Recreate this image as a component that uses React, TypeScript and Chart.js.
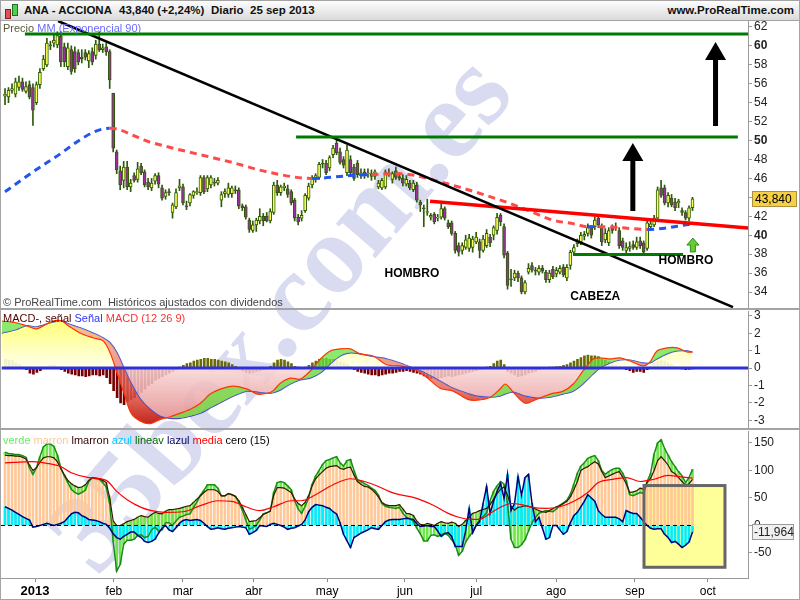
import React, { useEffect, useRef } from 'react';
import { Chart, registerables } from 'chart.js';
Chart.register(...registerables);

const FONT = '"Liberation Sans", Arial, Helvetica, sans-serif';
Chart.defaults.font.family = FONT;

// ---------- price (daily candles, index 0 = first session shown) ----------
const opens = [54.7,54.6,55.3,54.9,55.6,56.2,55.2,55.9,55.6,54.0, 55.9,57.6,58.0,60.1,60.3,60.1,61.0,59.9,57.8,59.6, 59.4,59.3,58.8,59.3,58.4,59.4,59.0,60.2,59.6,59.9, 59.4,55.0,48.8,46.8,45.8,47.2,45.1,46.3,45.9,47.3, 46.7,45.6,45.0,45.7,46.3,45.0,44.1,44.6,42.4,43.0, 45.0,45.1,43.1,43.4,44.2,44.5,44.5,46.1,44.9,45.3, 45.6,45.5,43.7,44.4,44.3,44.4,44.8,44.8,43.1,43.0, 41.6,40.5,41.1,41.5,42.0,42.0,41.5,42.4,45.3,44.5, 45.0,44.9,44.6,43.7,41.9,41.8,42.6,43.9,45.3,45.9, 46.1,47.6,47.6,47.1,48.5,49.7,48.8,48.0,46.6,48.0, 47.2,47.6,46.3,46.7,46.5,46.5,46.2,45.1,45.0,45.1, 46.6,45.9,46.8,46.2,46.0,45.4,45.5,44.8,45.3,43.5, 42.9,42.4,41.9,42.2,41.8,41.9,42.8,41.3,41.3,40.2, 38.9,38.4,38.7,38.6,38.7,39.3,39.3,38.4,38.9,39.8, 40.0,40.5,42.1,40.9,38.1,35.4,35.5,36.0,35.5,34.0, 36.1,36.8,36.3,36.1,36.5,36.1,35.3,36.4,35.9,36.1, 36.6,35.5,36.8,38.2,39.1,39.3,39.9,40.2,40.8,40.9, 41.8,40.9,39.5,39.2,40.9,40.8,40.5,39.4,38.4,38.6, 39.0,38.7,39.4,39.2,38.6,40.9,41.1,41.8,45.0,45.0, 43.4,43.9,43.5,43.4,42.6,42.4,41.8,42.9];
const highs = [55.5,55.6,56.0,56.6,56.8,56.6,56.2,56.3,56.0,56.2, 57.6,59.0,60.8,60.5,61.2,61.5,61.5,60.3,60.3,60.0, 59.9,59.6,59.6,59.6,59.5,59.8,60.6,61.5,60.2,60.3, 59.6,55.0,49.0,47.3,47.8,47.8,45.9,46.6,47.7,47.6, 46.9,46.0,46.0,46.5,46.6,45.3,44.8,44.9,43.4,44.9, 45.9,45.4,43.6,44.4,44.7,45.0,46.3,46.3,46.3,46.3, 46.0,46.1,44.6,44.9,45.5,45.2,45.2,45.0,43.3,43.2, 41.8,41.5,41.8,42.8,42.3,42.4,42.8,45.6,45.8,45.3, 45.5,45.3,44.8,43.9,42.2,42.6,44.4,45.5,46.3,46.5, 47.7,48.0,47.9,48.4,49.5,50.3,49.2,48.3,49.5,48.4, 47.5,47.9,47.0,47.0,47.0,46.9,46.9,45.8,46.0,46.9, 47.0,46.7,47.2,46.6,46.4,46.3,45.8,45.8,45.6,43.7, 43.2,43.8,42.3,42.4,42.2,43.3,43.0,41.6,41.5,40.4, 39.2,39.2,40.0,40.1,39.9,40.3,39.6,40.0,40.6,40.1, 41.0,42.3,42.3,41.2,38.3,36.4,36.3,36.2,35.7,35.2, 37.0,37.1,36.6,36.8,36.8,36.3,36.3,36.7,36.6,36.8, 36.9,36.9,38.4,39.0,39.6,40.3,40.4,41.2,41.0,41.9, 42.2,41.2,40.7,40.8,41.1,41.3,40.8,39.7,39.2,39.3, 39.4,39.8,39.8,39.4,41.6,41.5,42.1,45.1,45.8,45.3, 44.5,44.3,43.9,43.8,42.9,42.6,43.1,44.0];
const lows = [53.8,54.0,55.0,54.6,55.3,55.2,55.0,54.4,51.6,53.8, 55.5,57.4,57.8,59.6,59.9,59.8,57.8,57.8,57.5,57.0, 57.2,58.0,58.2,58.5,57.7,58.0,58.6,59.4,59.3,59.0, 55.5,48.8,46.5,44.8,45.0,44.8,44.6,45.6,45.6,46.4, 45.1,44.8,44.7,45.4,45.0,43.7,43.8,44.2,41.8,42.8, 44.7,43.2,42.7,43.1,43.9,44.3,44.2,44.4,44.6,45.0, 45.2,45.3,43.0,44.0,44.0,44.0,44.4,42.8,42.6,41.7, 40.3,40.3,40.4,41.2,41.0,41.4,41.3,42.2,44.2,44.2, 44.7,44.0,43.2,41.5,41.1,41.5,42.4,43.7,45.0,45.6, 45.9,47.1,46.4,46.8,48.2,48.5,47.5,47.1,46.3,46.3, 45.8,46.1,46.0,46.0,46.1,45.8,45.9,44.9,44.8,44.9, 46.2,45.5,45.9,45.8,45.2,45.2,44.8,44.6,43.5,42.5, 40.9,42.1,41.6,41.2,41.5,41.7,41.6,40.7,40.0,38.1, 37.8,38.0,38.5,38.3,38.2,39.1,37.6,38.2,38.7,38.8, 39.5,40.1,41.0,37.6,34.3,34.6,35.2,35.1,33.8,33.8, 35.9,36.1,35.8,35.8,36.0,35.0,35.0,35.4,35.6,35.9, 35.6,35.2,36.4,37.9,38.8,39.0,39.5,39.9,39.7,40.6, 40.8,38.9,39.2,38.9,40.2,40.5,38.6,38.4,38.1,38.3, 38.5,38.5,38.6,37.9,38.4,40.6,40.9,41.6,44.0,43.2, 43.0,43.0,42.6,42.9,42.1,41.6,41.5,42.6];
const closes = [54.9,55.3,55.5,56.2,56.2,55.4,55.7,54.6,53.2,55.9, 57.2,58.6,60.3,60.0,60.6,61.1,58.3,58.3,59.8,57.3, 57.6,58.3,58.6,58.8,59.2,58.3,60.2,59.6,59.8,59.4, 56.4,49.2,46.9,45.3,47.2,45.1,45.5,45.8,47.0,46.6, 45.3,45.1,45.5,46.3,45.4,43.9,44.5,44.5,43.2,44.5, 45.2,43.4,43.0,44.3,44.6,44.6,46.1,44.6,46.1,46.1, 45.5,45.8,44.3,44.6,45.0,45.0,44.7,43.1,42.9,41.9, 40.6,41.1,41.6,42.0,41.5,41.5,42.5,45.3,44.5,45.1, 45.2,44.3,43.4,41.8,41.4,42.1,44.2,45.2,46.0,46.3, 47.5,47.5,46.6,48.2,49.2,48.7,47.7,47.4,49.0,46.6, 46.0,46.4,46.6,46.3,46.6,46.2,46.7,45.5,45.8,46.7, 46.5,46.5,46.1,46.0,45.5,45.9,45.0,45.5,43.7,43.2, 42.8,42.5,42.1,41.4,41.9,42.8,41.8,40.9,40.2,38.4, 38.2,38.9,39.5,39.7,39.6,39.8,38.4,39.6,40.2,39.2, 40.8,41.9,41.4,37.9,34.7,35.3,36.0,35.5,34.0,35.0, 36.5,36.3,36.2,36.5,36.2,35.3,36.0,35.6,36.3,36.5, 35.8,36.6,38.2,38.7,39.3,40.0,40.1,40.8,40.0,41.6, 41.1,39.3,40.2,40.5,40.5,40.9,38.9,38.7,38.7,38.8, 38.7,39.3,38.9,38.2,41.3,41.2,41.8,44.8,44.2,43.4, 44.2,43.2,42.9,43.6,42.4,41.8,42.9,43.84];

// exponential MA 90 (read at a few points) and whether price is above it on each stretch
const maIdx = [0,13,30,41,56,65,75,88,99,105,113,125,142,148,157,163,167,170,176,184,197];
const maVal = [44.6,47.9,51.3,49.9,48.5,47.7,46.7,46.0,46.3,46.4,46.5,45.6,43.7,42.9,41.6,41.2,40.9,40.9,40.8,40.6,41.2];
const maAbove = [1,1,0,0,0,0,0,1,1,0,0,0,0,0,0,0,1,0,0,1,1];

// drawn lines on the price panel (index, price)
const lineTopGreen = [{ x: 5.7, y: 61.26 }, { x: 213, y: 61.26 }];
const lineMidGreen = [{ x: 83.4, y: 50.37 }, { x: 210, y: 50.37 }];
const lineDownTrend = [{ x: 15.2, y: 62.63 }, { x: 208.6, y: 32.4 }];
const lineNeckRed = [{ x: 121.8, y: 43.6 }, { x: 212.9, y: 40.75 }];
const lineLowGreen = [{ x: 162.8, y: 37.95 }, { x: 194.3, y: 37.95 }];
const arrowX = [179.9, 203.6];
const arrowBase = [42.56, 51.54];
const arrowTip = [49.74, 60.42];
const smallArrow = { x: 197.1, base: 38.23, tip: 39.7 };
const noteText = ['HOMBRO', 'CABEZA', 'HOMBRO'];
const noteX = [116.6, 169.1, 195.1];
const noteY = [35.9, 33.47, 37.27];
const priceTicks = [34,36,38,40,42,44,46,48,50,52,54,56,58,60,62];

// ---------- MACD (12 26 9) ----------
const macdIdx = [-1.1,3,6,9,13,16,18,21.5,25,28,30,32,34,36,38.7,41.5,44.4,47.3,50.1,53,55.9,58.7,61.6,65.3,69.3,72.2,75.1,76.8,78.8,81.7,84.5,87.4,90.3,93.1,96,98.9,101.7,105.4,109.5,113.2,116.9,120.3,124.6,128.4,132.4,135.2,139,141.8,143.3,145.6,149,152.4,156.2,159.9,162.8,165.6,168.5,170.5,173.4,176.2,179.1,182.8,184.8,186.8,189.7,192.6,195.4,197];
const macdVals = [2.7,2.6,2.43,2.25,2.66,2.72,2.43,2.0,1.74,1.56,0.87,-0.3,-1.45,-2.6,-3.06,-3.2,-2.95,-2.8,-2.6,-2.37,-2.02,-1.5,-1.21,-1.04,-1.21,-1.5,-1.45,-1.3,-0.87,-0.58,-0.64,-0.17,0.52,0.98,1.1,1.1,0.81,0.69,0.17,0.12,-0.06,-0.46,-1.16,-1.33,-1.79,-1.85,-1.68,-1.21,-0.92,-1.39,-2.02,-1.79,-1.5,-1.33,-0.92,-0.17,0.52,0.58,0.52,0.58,0.40,0.12,0.35,0.98,1.16,1.16,0.92,0.92];
const signalVals = [2.0,2.2,2.43,2.37,2.6,2.72,2.54,2.31,2.02,1.74,1.45,0.87,0,-0.87,-1.79,-2.37,-2.77,-2.89,-2.89,-2.77,-2.6,-2.3,-2.0,-1.62,-1.33,-1.39,-1.45,-1.42,-1.27,-0.92,-0.69,-0.58,-0.29,0.23,0.69,0.87,0.81,0.66,0.52,0.29,0.0,-0.29,-0.75,-1.16,-1.45,-1.62,-1.68,-1.62,-1.5,-1.39,-1.62,-1.73,-1.68,-1.5,-1.33,-0.92,-0.35,0.0,0.29,0.46,0.46,0.29,0.29,0.52,0.81,0.98,0.98,0.92];
const macdHist = [0.5,0.45,0.42,0.3,0.2,0.1,-0.1,-0.3,-0.35,-0.25, -0.15,0.05,0.1,0.15,0.15,0.1,-0.1,-0.2,-0.3,-0.35, -0.4,-0.45,-0.45,-0.5,-0.45,-0.4,-0.4,-0.45,-0.4,-0.55, -0.9,-1.3,-1.7,-2.0,-2.1,-1.9,-1.8,-1.7,-1.5,-1.4, -1.2,-1.0,-0.9,-0.7,-0.6,-0.5,-0.4,-0.3,-0.2,-0.1, 0.05,0.15,0.25,0.3,0.4,0.45,0.5,0.55,0.55,0.5, 0.5,0.45,0.4,0.35,0.3,0.2,0.1,-0.05,-0.15,-0.25, -0.3,-0.25,-0.2,-0.15,-0.1,-0.05,0.1,0.3,0.45,0.5, 0.45,0.35,0.25,0.1,0.05,0.02,0.05,0.15,0.3,0.4, 0.5,0.55,0.55,0.5,0.5,0.45,0.35,0.3,0.2,0.1, -0.1,-0.2,-0.25,-0.3,-0.35,-0.4,-0.4,-0.45,-0.4,-0.35, -0.3,-0.3,-0.25,-0.2,-0.2,-0.15,-0.2,-0.25,-0.3,-0.35, -0.45,-0.55,-0.6,-0.55,-0.6,-0.55,-0.5,-0.45,-0.5,-0.45, -0.4,-0.35,-0.3,-0.25,-0.2,-0.15,-0.1,-0.05,0.05,0.1, 0.25,0.4,0.45,0.2,-0.2,-0.3,-0.4,-0.5,-0.45,-0.4, -0.3,-0.25,-0.2,-0.1,-0.05,0.03,0.05,0.05,0.08,0.1, 0.15,0.2,0.3,0.4,0.5,0.6,0.7,0.75,0.7,0.7, 0.65,0.5,0.45,0.35,0.25,0.15,0.1,0.02,-0.1,-0.15, -0.25,-0.2,-0.2,-0.25,-0.1,0.1,0.3,0.4,0.45,0.4, 0.3,0.2,0.1,0.02,-0.05,-0.1,-0.08,-0.05];
const macdTicks = [-3,-2,-1,0,1,2,3];

// ---------- oscillator (15) ----------
const verde = [133,131,130,129,129,127,124,105,93,105, 125,143,148,148,144,128,105,90,78,66, 60,57,60,64,80,87,85,84,78,70, 40,-30,-83,-71,-34,-27,-27,-25,-18,-17, -22,-20,-8,-3,-10,-8,5,5,0,8, 15,17,20,21,32,43,55,64,74,74, 74,68,54,54,58,56,53,42,28,10, -7,-4,0,10,21,23,26,60,78,80, 78,72,65,45,30,22,35,50,75,90, 100,111,118,120,123,125,114,108,118,120, 100,83,80,76,73,68,64,55,40,35, 33,32,31,33,22,15,12,8,-5,-15, -28,-28,-18,-17,-20,-17,-14,-18,-26,-35, -54,-47,-30,-20,-12,0,11,16,23,45, 62,72,80,75,40,-25,-40,-40,-35,-26, -10,5,15,22,25,27,26,25,30,37, 41,46,57,75,95,108,114,122,125,127, 118,100,93,98,102,104,104,95,82,56, 54,57,60,58,80,95,130,150,156,140, 128,116,107,98,90,78,87,102];
const lmarron = [128,127,127,126,126,124,121,110,100,105, 115,123,125,125,123,116,103,92,82,76, 72,69,70,74,82,87,86,85,82,78, 50,8,0,0,3,7,9,11,15,18, 16,15,20,24,22,21,26,29,29,30, 31,33,35,36,42,48,54,60,65,65, 65,62,54,54,58,56,53,45,33,20, 7,8,9,14,20,23,26,55,69,69, 68,64,60,48,40,36,42,54,72,85, 92,98,104,107,108,109,104,102,105,106, 92,80,75,71,70,66,60,52,42,38, 36,36,36,38,30,22,21,18,8,2, 1,4,2,0,4,7,5,4,6,4, -2,2,9,15,22,24,27,29,31,38, 48,58,66,70,55,35,28,33,34,36, 35,33,30,27,25,24,27,31,34,36, 40,44,52,65,80,100,104,107,112,116, 112,98,87,90,93,96,98,88,76,60, 61,63,68,66,78,86,100,118,125,118, 110,98,94,87,80,73,76,84];
const lazul = [34,31,28,24,20,16,13,10,-3,-2, 0,2,4,2,0,2,4,7,14,21, 24,23,18,15,11,10,9,7,4,2, -5,-15,-22,-25,-20,-16,-12,-12,-18,-22, -29,-31,-29,-25,-14,-5,0,-8,-11,-4, 4,9,11,9,10,11,9,4,-2,-7, -6,-4,-6,-7,-5,-4,-3,-2,-3,-4, -16,-13,-9,0,-1,-2,2,4,2,0, -3,-7,-5,-4,-1,2,10,25,33,38, 37,36,33,31,25,21,5,-16,-28,-40, -22,-18,-14,-11,-8,-4,-6,-7,0,7, 10,11,11,11,12,13,12,11,3,-2, -1,0,-2,-2,-10,-20,-15,-13,-20,-38, -38,-38,-10,31,-13,0,7,40,71,22, 44,62,76,49,93,27,40,89,55,87, 93,40,7,15,-5,-25,-22,0,0,-8, -16,-11,5,18,24,34,44,56,50,44, 27,20,15,15,15,15,12,7,27,24, 22,22,15,7,0,-5,-7,-6,-6,-16, -22,-31,-29,-34,-40,-36,-30,-11.964];
const mediaIdx = [0,8,12,16,19,24,29,32,35,39,42,46,51,56,61,65,69,73,77,82,85,89,94,99,103,107,110,113,117,123,127,130,134,136,139,142,145,148,151,155,159,163,167,170,174,178,182,186,190,193,197];
const mediaVal = [114,116,113,107,96,87,82,62,47,33,27,24,25,36,45,44,34,27,34,45,45,56,74,85,80,71,62,56,51,36,22,15,11,11,22,33,40,38,33,31,34,44,60,78,84,87,80,84,91,89,86];
const boxX = [183.1, 206.3];
const boxY = [72.6, -76];
const oscTicks = [-50, 0, 50, 100, 150];

// ---------- time axis ----------
const monthIdx = [8.6, 31.2, 51.0, 71.3, 92.3, 114.6, 135.0, 157.9, 180.5, 201.4];
const monthLabels = ['2013', 'feb', 'mar', 'abr', 'may', 'jun', 'jul', 'ago', 'sep', 'oct'];

const X_MIN = -1.15;
const X_MAX = 212.9;

const fmt = (v: number) => v.toFixed(3).replace('.', ',');
const pts = (arr: number[]) => arr.map((v, i) => ({ x: i, y: v }));
const sparse = (xs: number[], ys: number[]) => xs.map((x, k) => ({ x, y: ys[k] }));

function yAxis(min: number, max: number, ticks: number[], font?: any) {
  return {
    position: 'right',
    min,
    max,
    afterBuildTicks: (ax: any) => { ax.ticks = ticks.map((v) => ({ value: v })); },
    afterFit: (s: any) => { s.width = 52; s.paddingTop = 0; s.paddingBottom = 0; },
    grid: { drawOnChartArea: false, drawTicks: true, tickLength: 4, color: '#9a9a9a', offset: false },
    border: { display: true, color: '#9a9a9a' },
    ticks: { autoSkip: false, padding: 2, color: '#222', callback: (v: any) => String(v), font: font || { family: FONT, size: 12 } },
  };
}

const hiddenX = { type: 'linear', min: X_MIN, max: X_MAX, display: false, offset: false, grid: { offset: false } };

const framePlugin = {
  id: 'frame',
  afterDraw(chart: any) {
    const { ctx, width, height } = chart;
    ctx.save();
    ctx.strokeStyle = '#a4a4a4';
    ctx.lineWidth = 1;
    ctx.strokeRect(0.5, 0.5, width - 1, height - 1);
    ctx.restore();
  },
};

function drawArrow(ctx: any, x: number, yb: number, yt: number, headLen: number, headW: number, shaftW: number, fill: string, stroke?: string) {
  const hw = headW / 2, sw = shaftW / 2;
  ctx.beginPath();
  ctx.moveTo(x - sw, yb);
  ctx.lineTo(x - sw, yt + headLen);
  ctx.lineTo(x - hw, yt + headLen);
  ctx.lineTo(x, yt);
  ctx.lineTo(x + hw, yt + headLen);
  ctx.lineTo(x + sw, yt + headLen);
  ctx.lineTo(x + sw, yb);
  ctx.closePath();
  ctx.fillStyle = fill;
  ctx.fill();
  if (stroke) { ctx.strokeStyle = stroke; ctx.lineWidth = 1; ctx.stroke(); }
}

const priceDeco = {
  id: 'priceDeco',
  afterDatasetsDraw(chart: any) {
    const { ctx, scales } = chart;
    const xs = scales.x, ys = scales.y;
    ctx.save();
    for (let k = 0; k < arrowX.length; k++) {
      drawArrow(ctx, xs.getPixelForValue(arrowX[k]), ys.getPixelForValue(arrowBase[k]), ys.getPixelForValue(arrowTip[k]), 18, 21, 5, '#000');
    }
    drawArrow(ctx, xs.getPixelForValue(smallArrow.x), ys.getPixelForValue(smallArrow.base), ys.getPixelForValue(smallArrow.tip), 7, 12, 5, '#66cc33', '#2e8b1e');
    ctx.font = `bold 12px ${FONT}`;
    ctx.textAlign = 'center';
    ctx.textBaseline = 'middle';
    ctx.fillStyle = '#000';
    noteText.forEach((t, k) => ctx.fillText(t, xs.getPixelForValue(noteX[k]), ys.getPixelForValue(noteY[k])));
    ctx.restore();
  },
  afterDraw(chart: any) {
    const { ctx, scales, chartArea } = chart;
    const last = closes[closes.length - 1];
    const y = Math.round(scales.y.getPixelForValue(last));
    const x = chartArea.right + 4;
    ctx.save();
    ctx.fillStyle = '#f6cf45';
    ctx.fillRect(x, y - 8, 45, 16);
    ctx.strokeStyle = '#a89040';
    ctx.strokeRect(x + 0.5, y - 7.5, 44, 15);
    ctx.fillStyle = '#000';
    ctx.font = `12px ${FONT}`;
    ctx.textAlign = 'left';
    ctx.textBaseline = 'middle';
    ctx.fillText(fmt(last), x + 3, y + 1);
    ctx.restore();
  },
};

const oscDeco = {
  id: 'oscDeco',
  beforeDatasetsDraw(chart: any) {
    const { ctx, scales } = chart;
    const x0 = scales.x.getPixelForValue(boxX[0]), x1 = scales.x.getPixelForValue(boxX[1]);
    const y0 = scales.y.getPixelForValue(boxY[0]), y1 = scales.y.getPixelForValue(boxY[1]);
    ctx.save();
    ctx.fillStyle = '#ffff99';
    ctx.fillRect(x0, y0, x1 - x0, y1 - y0);
    ctx.restore();
  },
  afterDatasetsDraw(chart: any) {
    const { ctx, scales } = chart;
    const x0 = scales.x.getPixelForValue(boxX[0]), x1 = scales.x.getPixelForValue(boxX[1]);
    const y0 = scales.y.getPixelForValue(boxY[0]), y1 = scales.y.getPixelForValue(boxY[1]);
    ctx.save();
    ctx.strokeStyle = '#666';
    ctx.lineWidth = 3;
    ctx.strokeRect(x0, y0, x1 - x0, y1 - y0);
    ctx.restore();
  },
  afterDraw(chart: any) {
    const { ctx, scales, chartArea } = chart;
    const last = lazul[lazul.length - 1];
    const y = Math.round(scales.y.getPixelForValue(last));
    const x = chartArea.right + 4;
    ctx.save();
    ctx.fillStyle = '#f0f0f0';
    ctx.fillRect(x, y - 8, 42, 16);
    ctx.strokeStyle = '#9a9a9a';
    ctx.strokeRect(x + 0.5, y - 7.5, 41, 15);
    ctx.fillStyle = '#222';
    ctx.font = `12px ${FONT}`;
    ctx.textAlign = 'left';
    ctx.textBaseline = 'middle';
    ctx.fillText(fmt(last), x + 2, y + 1);
    ctx.restore();
  },
};

export default function App() {
  const pRef = useRef<HTMLCanvasElement>(null);
  const mRef = useRef<HTMLCanvasElement>(null);
  const oRef = useRef<HTMLCanvasElement>(null);

  useEffect(() => {
    const charts: Chart[] = [];
    const lineDs = (data: any, color: string, width: number, order: number) => ({
      type: 'line', data, borderColor: color, borderWidth: width, pointRadius: 0, fill: false, order,
    });

    // ---- price ----
    const wicks = closes.map((_, i) => ({ x: i, y: [lows[i], highs[i]] }));
    const bodies = closes.map((c, i) => ({ x: i, y: [opens[i], c] }));
    const price = new Chart(pRef.current as HTMLCanvasElement, {
      type: 'bar',
      data: {
        datasets: [
          lineDs(lineTopGreen, '#007a00', 3, 0),
          lineDs(lineMidGreen, '#007a00', 3, 0),
          lineDs(lineLowGreen, '#007a00', 3, 0),
          lineDs(lineDownTrend, '#000000', 2.5, 0),
          lineDs(lineNeckRed, '#ff0000', 3.5, 0),
          {
            type: 'line', data: sparse(maIdx, maVal), borderWidth: 3, borderDash: [7, 5], pointRadius: 0,
            cubicInterpolationMode: 'monotone', fill: false, order: 1,
            segment: { borderColor: (ctx: any) => (maAbove[ctx.p0DataIndex] ? '#2255f0' : '#ff4a4a') },
          },
          {
            type: 'bar', data: bodies, grouped: false, barThickness: 3, borderWidth: 1, borderSkipped: false,
            borderColor: '#2d5a08', order: 2,
            backgroundColor: (ctx: any) => (closes[ctx.dataIndex] >= opens[ctx.dataIndex] ? '#ffff55' : '#993399'),
          },
          { type: 'bar', data: wicks, grouped: false, barThickness: 1, backgroundColor: '#2d5a08', order: 3 },
        ],
      } as any,
      options: {
        animation: false, responsive: false, devicePixelRatio: 1,
        layout: { padding: { left: 1, right: 0, top: 1, bottom: 1 } },
        plugins: { legend: { display: false }, tooltip: { enabled: false } },
        scales: {
          x: hiddenX,
          y: yAxis(32.31, 62.63, priceTicks, (ctx: any) => ({
            family: FONT, size: 12, weight: ctx.tick && ctx.tick.value % 10 === 0 ? 'bold' : 'normal',
          })),
        },
      } as any,
      plugins: [priceDeco, framePlugin],
    });
    charts.push(price);

    // ---- MACD ----
    const macd = new Chart(mRef.current as HTMLCanvasElement, {
      type: 'bar',
      data: {
        datasets: [
          { type: 'line', data: sparse(macdIdx, macdVals), borderColor: '#ff3300', borderWidth: 1.2, pointRadius: 0, tension: 0.3, fill: false, order: 1 },
          { type: 'line', data: sparse(macdIdx, signalVals), borderColor: '#3344ee', borderWidth: 1.2, pointRadius: 0, tension: 0.3, fill: false, order: 2 },
          {
            type: 'bar', data: pts(macdHist), grouped: false, barThickness: 2, order: 3,
            backgroundColor: (ctx: any) => (macdHist[ctx.dataIndex] >= 0 ? '#6b6b00' : '#780000'),
          },
          { type: 'line', data: [{ x: X_MIN, y: 0 }, { x: X_MAX, y: 0 }], borderColor: '#3030d8', borderWidth: 3, pointRadius: 0, fill: false, order: 0 },
        ],
      } as any,
      options: {
        animation: false, responsive: false, devicePixelRatio: 1,
        layout: { padding: { left: 1, right: 0, top: 2, bottom: 2 } },
        plugins: { legend: { display: false }, tooltip: { enabled: false } },
        scales: { x: hiddenX, y: yAxis(-3.39, 3.276, macdTicks) },
      } as any,
      plugins: [framePlugin],
    });
    {
      const ys = macd.scales.y;
      const c = macd.ctx;
      const yel = c.createLinearGradient(0, ys.getPixelForValue(3), 0, ys.getPixelForValue(0));
      yel.addColorStop(0, 'rgba(255,255,90,0.9)');
      yel.addColorStop(1, 'rgba(255,255,235,0.9)');
      const pink = c.createLinearGradient(0, ys.getPixelForValue(0), 0, ys.getPixelForValue(-3));
      pink.addColorStop(0, 'rgba(248,215,215,0.85)');
      pink.addColorStop(1, 'rgba(228,140,140,0.9)');
      const red = c.createLinearGradient(0, ys.getPixelForValue(2.5), 0, ys.getPixelForValue(-3.3));
      red.addColorStop(0, 'rgba(240,150,140,0.6)');
      red.addColorStop(0.6, 'rgba(230,100,85,0.8)');
      red.addColorStop(1, 'rgba(190,20,10,0.95)');
      (macd.data.datasets[1] as any).fill = { target: 'origin', above: yel, below: pink };
      (macd.data.datasets[0] as any).fill = { target: 1, above: 'rgba(100,225,60,0.75)', below: red };
      macd.update('none');
    }
    charts.push(macd);

    // ---- oscillator ----
    const osc = new Chart(oRef.current as HTMLCanvasElement, {
      type: 'bar',
      data: {
        datasets: [
          { type: 'line', data: [{ x: X_MIN, y: 0 }, { x: closes.length - 1, y: 0 }], borderColor: '#000', borderWidth: 1, borderDash: [4, 3], pointRadius: 0, fill: false, order: 0 },
          { type: 'line', data: sparse(mediaIdx, mediaVal), borderColor: '#ff0000', borderWidth: 1.2, pointRadius: 0, cubicInterpolationMode: 'monotone', fill: false, order: 1 },
          lineDs(pts(lazul), '#000078', 1.5, 2),
          lineDs(pts(lmarron), '#3a1500', 1.2, 3),
          lineDs(pts(verde), '#1a8a1a', 1.5, 4),
          { type: 'bar', data: pts(lazul), grouped: false, barThickness: 2, backgroundColor: '#00eeff', order: 5 },
          { type: 'bar', data: verde.map((v, i) => ({ x: i, y: [lmarron[i], v] })), grouped: false, barThickness: 2, backgroundColor: '#6ee64a', order: 6 },
          { type: 'bar', data: pts(lmarron), grouped: false, barThickness: 2, backgroundColor: '#ffc896', order: 7 },
        ],
      } as any,
      options: {
        animation: false, responsive: false, devicePixelRatio: 1,
        layout: { padding: { left: 1, right: 0, top: 2, bottom: 0 } },
        plugins: { legend: { display: false }, tooltip: { enabled: false } },
        scales: {
          x: {
            type: 'linear', min: X_MIN, max: X_MAX, offset: false, position: 'bottom',
            afterBuildTicks: (ax: any) => { ax.ticks = monthIdx.map((v) => ({ value: v })); },
            afterFit: (s: any) => { s.height = 22; s.paddingLeft = 0; s.paddingRight = 0; },
            grid: { drawOnChartArea: false, drawTicks: true, tickLength: 4, color: '#8a8a8a', offset: false },
            border: { display: true, color: '#9a9a9a' },
            ticks: {
              autoSkip: false, maxRotation: 0, minRotation: 0, padding: 2, color: '#000',
              callback: (_v: any, i: number) => monthLabels[i],
              font: (ctx: any) => ({ family: FONT, size: ctx.index === 0 ? 13 : 12, weight: ctx.index === 0 ? 'bold' : 'normal' }),
            },
          },
          y: yAxis(-95.5, 171.8, oscTicks),
        },
      } as any,
      plugins: [oscDeco, framePlugin],
    });
    charts.push(osc);

    return () => charts.forEach((c) => c.destroy());
  }, []);

  const legend = (top: number, parts: [string, string][]) => (
    <div style={{ position: 'absolute', left: 3, top, fontSize: 11, lineHeight: '14px', whiteSpace: 'pre', zIndex: 3 }}>
      {parts.map(([t, c], k) => (
        <span key={k} style={{ color: c }}>{t}</span>
      ))}
    </div>
  );

  return (
    <div style={{ position: 'fixed', left: 0, top: 0, width: 800, height: 600, background: '#fff', overflow: 'hidden', fontFamily: FONT }}>
      <div style={{ position: 'absolute', left: 278, top: 312, transform: 'translate(-50%, -50%) rotate(-49deg)', fontFamily: '"Liberation Serif", "DejaVu Serif", serif', fontWeight: 'bold', fontSize: 114, color: '#d9dbf0', whiteSpace: 'nowrap', lineHeight: 1, zIndex: 1 }}>
        35bex.com.es
      </div>
      <canvas ref={pRef} width={800} height={289} style={{ position: 'absolute', left: 0, top: 20, zIndex: 2 }} />
      <canvas ref={mRef} width={800} height={120} style={{ position: 'absolute', left: 0, top: 309, zIndex: 2 }} />
      <canvas ref={oRef} width={800} height={171} style={{ position: 'absolute', left: 0, top: 429, zIndex: 2 }} />

      <div style={{ position: 'absolute', left: 0, top: 0, width: 800, height: 21, boxSizing: 'border-box', border: '1px solid #a4a4a4', background: 'linear-gradient(#fdfdfd, #dadada)', zIndex: 4 }}>
        <div style={{ position: 'absolute', left: 4, top: 8, width: 4, height: 8, background: '#e05050', border: '1px solid #802020' }} />
        <div style={{ position: 'absolute', left: 11, top: 3, width: 4, height: 10, background: '#50d050', border: '1px solid #207020' }} />
        <div style={{ position: 'absolute', left: 23, top: 3, fontSize: 11.5, fontWeight: 'bold', color: '#111', whiteSpace: 'pre' }}>ANA - ACCIONA</div>
        <div style={{ position: 'absolute', left: 118, top: 3, fontSize: 11.5, fontWeight: 'bold', color: '#111', whiteSpace: 'pre' }}>43,840 (+2,24%)</div>
        <div style={{ position: 'absolute', left: 210, top: 3, fontSize: 11.5, fontWeight: 'bold', color: '#111', whiteSpace: 'pre' }}>Diario  25 sep 2013</div>
        <div style={{ position: 'absolute', right: 5, top: 3, fontSize: 11.5, fontWeight: 'bold', color: '#111', whiteSpace: 'pre' }}>www.ProRealTime.com</div>
      </div>

      {legend(21, [['Precio ', '#5a5a3a'], ['MM (Exponencial 90)', '#6a6aff']])}
      {legend(295, [['© ProRealTime.com  Históricos ajustados con dividendos', '#444']])}
      {legend(311, [['MACD-, señal ', '#500000'], ['Señal ', '#3333ff'], ['MACD (12 26 9)', '#ff3333']])}
      {legend(433, [['verde ', '#66ee66'], ['marron ', '#ffc896'], ['lmarron ', '#330000'], ['azul ', '#00ccff'], ['lineav ', '#006600'], ['lazul ', '#000066'], ['media ', '#ff0000'], ['cero (15)', '#000']])}
    </div>
  );
}
